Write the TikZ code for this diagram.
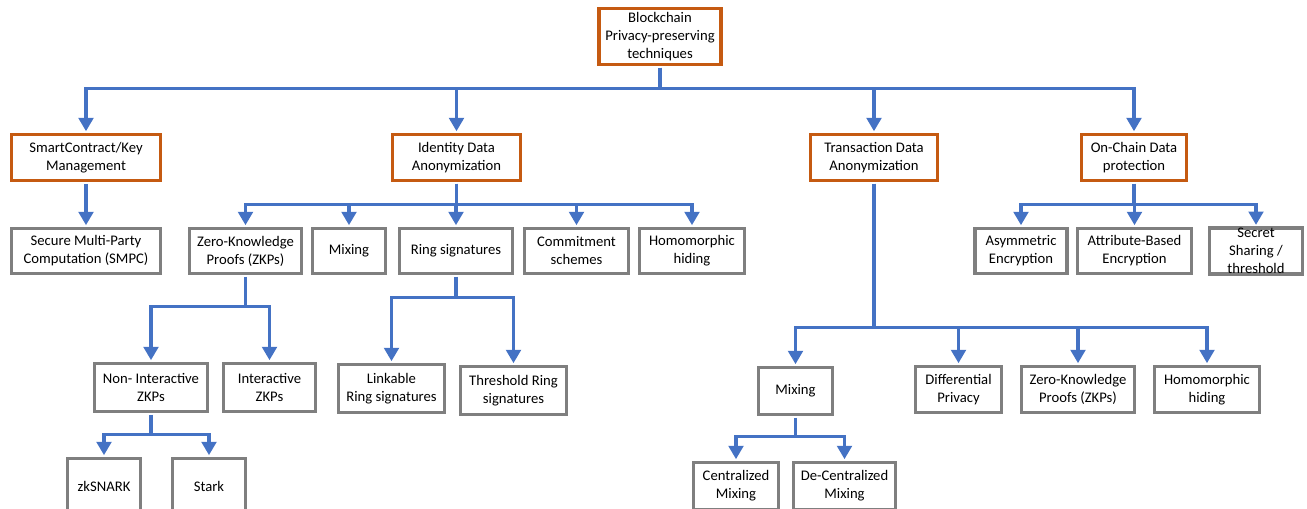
\documentclass[tikz,border=0pt]{standalone}
\usepackage{fontspec}
\setmainfont{Carlito}
\usepackage{tikz}
\usetikzlibrary{arrows.meta}
\definecolor{catorange}{HTML}{C55A11}
\definecolor{leafgray}{HTML}{7F7F7F}
\definecolor{linkblue}{HTML}{4472C4}
\tikzset{
    catbox/.style={rectangle, draw=catorange, line width=2.5pt, fill=white,
      align=center, inner sep=0pt, font=\fontsize{11}{13.5}\selectfont},
    leafbox/.style={rectangle, draw=leafgray, line width=2.6pt, fill=white,
      align=center, inner sep=0pt, font=\fontsize{11}{13.5}\selectfont},
    link/.style={-{Triangle[width=11pt,length=10pt]}, draw=linkblue, line width=2.3pt,
      shorten <=1.2pt, shorten >=1.2pt},
}
\begin{document}
\begin{tikzpicture}[x=0.75pt,y=-0.75pt]
 \clip (0,0) rectangle (1307,508);
 % top level
 \node[catbox, minimum width=122*0.75pt, minimum height=56*0.75pt] (root) at (660,36.5)
    {Blockchain\\Privacy-preserving\\techniques};
 \node[catbox, minimum width=149*0.75pt, minimum height=46*0.75pt] (smart) at (86,157.5)
    {SmartContract/Key\\Management};
 \node[catbox, minimum width=128*0.75pt, minimum height=46*0.75pt] (ident) at (456.5,157.5)
    {Identity Data\\Anonymization};
 \node[catbox, minimum width=127*0.75pt, minimum height=46*0.75pt] (trans) at (874,157.5)
    {Transaction Data\\Anonymization};
 \node[catbox, minimum width=105*0.75pt, minimum height=46*0.75pt] (chain) at (1134,157.5)
    {On-Chain Data\\protection};
 % second level
 \node[leafbox, minimum width=149*0.75pt, minimum height=45*0.75pt] (smpc) at (86,251)
    {Secure Multi-Party\\Computation (SMPC)};
 \node[leafbox, minimum width=112*0.75pt, minimum height=45*0.75pt] (zkp) at (245.5,251)
    {Zero-Knowledge\\Proofs (ZKPs)};
 \node[leafbox, minimum width=73*0.75pt, minimum height=45*0.75pt] (mix) at (349,251)
    {Mixing};
 \node[leafbox, minimum width=113*0.75pt, minimum height=45*0.75pt] (ring) at (456,251)
    {Ring signatures};
 \node[leafbox, minimum width=104*0.75pt, minimum height=45*0.75pt] (commit) at (576.5,251)
    {Commitment\\schemes};
 \node[leafbox, minimum width=105*0.75pt, minimum height=45*0.75pt] (homo) at (692,251)
    {Homomorphic\\hiding};
 \node[leafbox, minimum width=92*0.75pt, minimum height=45*0.75pt] (asym) at (1021,251)
    {Asymmetric\\Encryption};
 \node[leafbox, minimum width=114*0.75pt, minimum height=45*0.75pt] (attr) at (1134.5,251)
    {Attribute-Based\\Encryption};
 \node[leafbox, minimum width=93*0.75pt, minimum height=45*0.75pt] (secret) at (1256,251)
    {Secret\\Sharing /\\threshold};
 % third level
 \node[leafbox, minimum width=113*0.75pt, minimum height=48*0.75pt] (nizk) at (151,387.5)
    {Non- Interactive\\ZKPs};
 \node[leafbox, minimum width=92*0.75pt, minimum height=48*0.75pt] (izk) at (269.5,387.5)
    {Interactive\\ZKPs};
 \node[leafbox, minimum width=106*0.75pt, minimum height=48*0.75pt] (lring) at (391.5,388.5)
    {Linkable\\Ring signatures};
 \node[leafbox, minimum width=106*0.75pt, minimum height=48*0.75pt] (tring) at (513.5,390.5)
    {Threshold Ring\\signatures};
 \node[leafbox, minimum width=74*0.75pt, minimum height=47*0.75pt] (tmix) at (795.5,391)
    {Mixing};
 \node[leafbox, minimum width=86*0.75pt, minimum height=46*0.75pt] (diff) at (958.5,389.5)
    {Differential\\Privacy};
 \node[leafbox, minimum width=113*0.75pt, minimum height=46*0.75pt] (tzkp) at (1078,389.5)
    {Zero-Knowledge\\Proofs (ZKPs)};
 \node[leafbox, minimum width=105*0.75pt, minimum height=46*0.75pt] (thomo) at (1207,389.5)
    {Homomorphic\\hiding};
 % fourth level
 \node[leafbox, minimum width=73*0.75pt, minimum height=56*0.75pt] (snark) at (104,486.5)
    {zkSNARK};
 \node[leafbox, minimum width=73*0.75pt, minimum height=56*0.75pt] (stark) at (209,486.5)
    {Stark};
 \node[leafbox, minimum width=85*0.75pt, minimum height=47*0.75pt] (cmix) at (736,486)
    {Centralized\\Mixing};
 \node[leafbox, minimum width=102*0.75pt, minimum height=47*0.75pt] (dmix) at (844.5,486)
    {De-Centralized\\Mixing};
 % connectors
 \foreach \child in {smart,ident,trans,chain}
   \draw[link] (root.south) -- ++(0,22) -| (\child.north);
 \draw[link] (smart.south) -- (smpc.north);
 \foreach \child in {zkp,mix,ring,commit,homo}
   \draw[link] (ident.south) -- ++(0,22) -| (\child.north);
 \foreach \child in {asym,attr,secret}
   \draw[link] (chain.south) -- ++(0,22) -| (\child.north);
 \foreach \child in {nizk,izk}
   \draw[link] (zkp.south) -- ++(0,31) -| (\child.north);
 \foreach \child in {lring,tring}
   \draw[link] (ring.south) -- ++(0,22.5) -| (\child.north);
 \foreach \child in {tmix,diff,tzkp,thomo}
   \draw[link] (trans.south) -- ++(0,145.5) -| (\child.north);
 \foreach \child in {snark,stark}
   \draw[link] (nizk.south) -- ++(0,21.5) -| (\child.north);
 \foreach \child in {cmix,dmix}
   \draw[link] (tmix.south) -- ++(0,20.5) -| (\child.north);
\end{tikzpicture}
\end{document}
